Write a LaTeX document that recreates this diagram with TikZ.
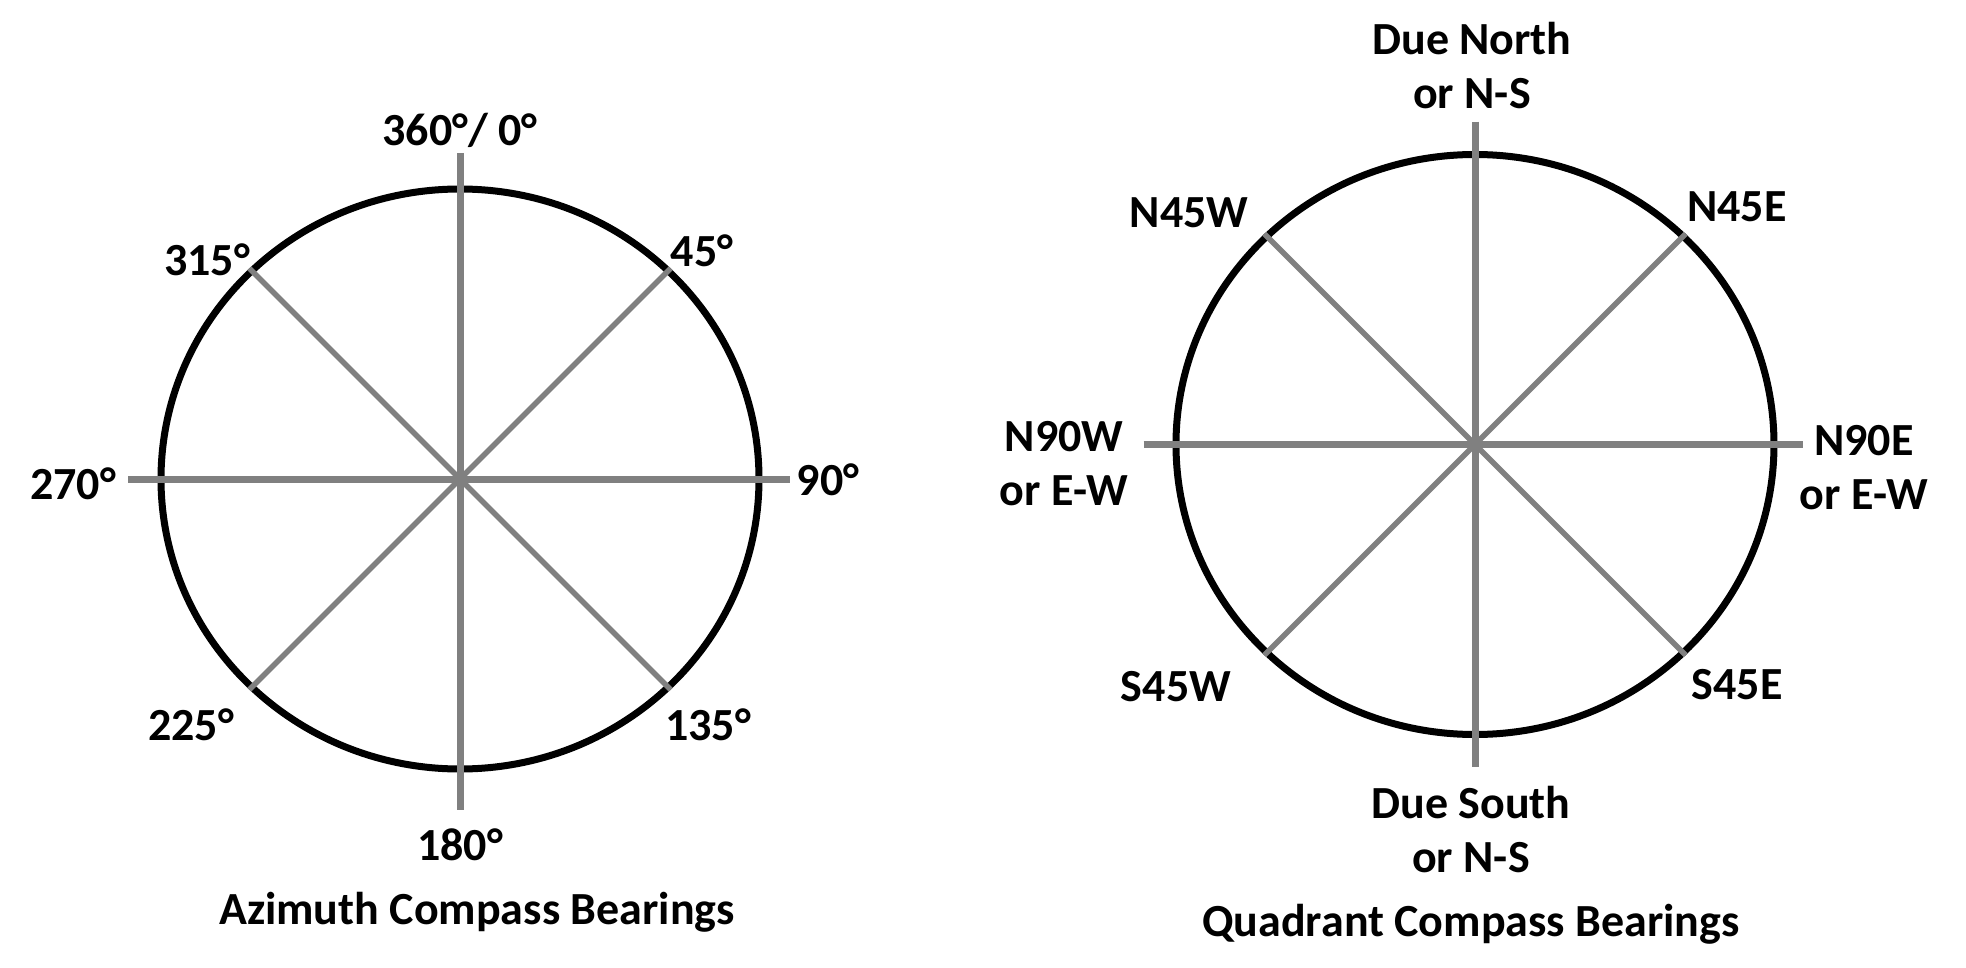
\documentclass[tikz,border=0pt]{standalone}
\usepackage{fontspec}
\setmainfont{Carlito}
\usetikzlibrary{shapes.geometric}
\definecolor{spoke}{RGB}{128,128,128}
\tikzset{
  dial/.style={ellipse, draw=black, line width=7pt, inner sep=0pt, minimum width=598pt, minimum height=580pt},
  spokeline/.style={draw=spoke, line width=7pt},
  diagline/.style={draw=spoke, line width=5.5pt},
  lbl/.style={font=\fontsize{46}{54}\selectfont\bfseries, inner sep=0pt, align=center},
}
\begin{document}
\begin{tikzpicture}[x=1pt,y=-1pt]
\useasboundingbox[fill=white] (0,0) rectangle (1966,968);
% ---------- Azimuth ----------
\node[dial] (c1) at (460,479) {};
\coordinate (a0) at (460,153);
\coordinate (a180) at (460,810);
\coordinate (a270) at (128,479);
\coordinate (a90) at (790,479);
\draw[spokeline] (a0) -- (a180);
\draw[spokeline] (a270) -- (a90);
\draw[diagline] (c1.45) -- (c1.225);
\draw[diagline] (c1.135) -- (c1.-45);
\node[lbl] (l0) at (460,130) {360°/ 0°};
\node[lbl] (l45) at (702,251) {45°};
\node[lbl] (l315) at (207,260) {315°};
\node[lbl] (l270) at (73,484) {270°};
\node[lbl] (l90) at (828,480) {90°};
\node[lbl] (l225) at (191,725) {225°};
\node[lbl] (l135) at (708,725) {135°};
\node[lbl] (l180) at (460,845) {180°};
\node[lbl] (t1) at (477,912) {Azimuth Compass Bearings};
% ---------- Quadrant ----------
\node[dial] (c2) at (1475,444.5) {};
\coordinate (qn) at (1475,121.6);
\coordinate (qs) at (1475,767);
\coordinate (qw) at (1143.5,444.5);
\coordinate (qe) at (1803,444.5);
\draw[spokeline] (qn) -- (qs);
\draw[spokeline] (qw) -- (qe);
\draw[diagline] (c2.45) -- (c2.225);
\draw[diagline] (c2.135) -- (c2.-45);
\node[lbl] (qnl) at (1472,66) {Due North\\or N-S};
\node[lbl] (qnw) at (1189,213) {N45W};
\node[lbl] (qne) at (1737,207) {N45E};
\node[lbl] (qwl) at (1064,464) {N90W\\or E-W};
\node[lbl] (qel) at (1864,468) {N90E\\or E-W};
\node[lbl] (qsw) at (1176,687) {S45W};
\node[lbl] (qse) at (1737,685) {S45E};
\node[lbl] (qsl) at (1471,830) {Due South\\or N-S};
\node[lbl] (t2) at (1471,924) {Quadrant Compass Bearings};
\end{tikzpicture}
\end{document}
